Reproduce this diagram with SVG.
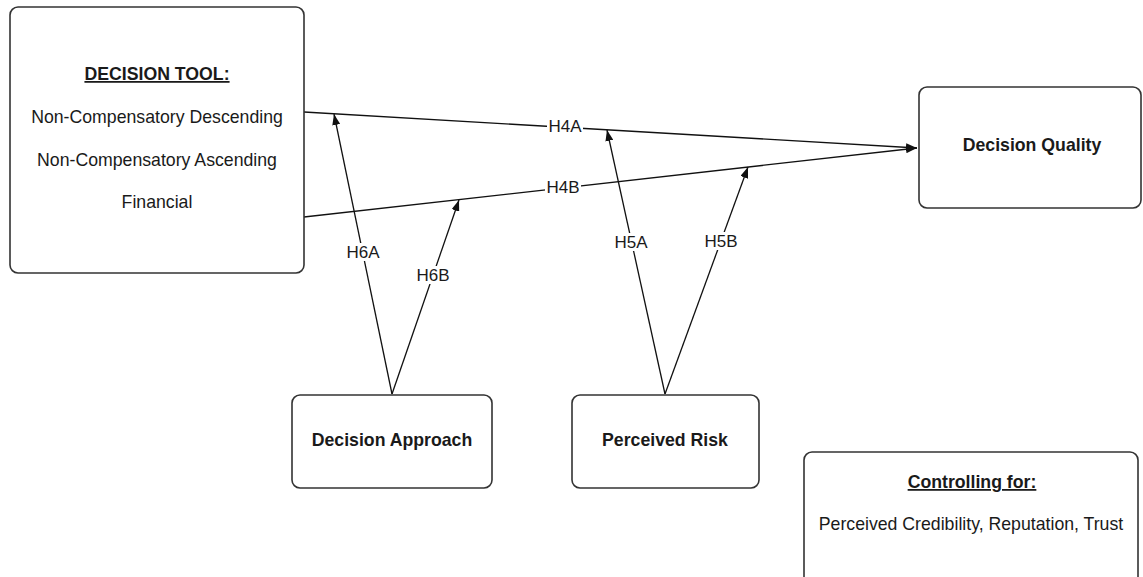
<svg xmlns="http://www.w3.org/2000/svg" width="1143" height="577" viewBox="0 0 1143 577">
  <style>
    .box { fill: #ffffff; stroke: #333333; stroke-width: 1.6; }
    .txt { font-family: "Liberation Sans", Arial, sans-serif; font-size: 17.7px; fill: #1a1a1a; text-anchor: middle; }
    .lbl { font-family: "Liberation Sans", Arial, sans-serif; font-size: 17px; fill: #1a1a1a; text-anchor: middle; }
    .bold { font-weight: bold; }
    .ul { text-decoration: underline; }
    .edge { stroke: #111111; stroke-width: 1.3; fill: none; marker-end: url(#arrow); }
    .lblbg { fill: #ffffff; }
  </style>
  <defs>
    <marker id="arrow" markerUnits="userSpaceOnUse" markerWidth="12" markerHeight="8" refX="11" refY="4" orient="auto">
      <path d="M0,0 L11,4 L0,8 z" fill="#111111"/>
    </marker>
  </defs>
  <rect width="1143" height="577" fill="#ffffff"/>

  <g id="connectors">
    <path class="edge" d="M304,112 L917,148"/>
    <path class="edge" d="M304,217 L917,148"/>
    <path class="edge" d="M392,394 L334,114"/>
    <path class="edge" d="M392,394 L459,200"/>
    <path class="edge" d="M665,394 L607,130"/>
    <path class="edge" d="M665,394 L748,167"/>
    <g id="labels">
      <rect class="lblbg" x="547" y="117" width="36" height="18"/>
      <text class="lbl" x="565" y="132">H4A</text>
      <rect class="lblbg" x="545" y="178" width="36" height="18"/>
      <text class="lbl" x="563" y="193">H4B</text>
      <rect class="lblbg" x="345" y="243" width="36" height="18"/>
      <text class="lbl" x="363" y="258">H6A</text>
      <rect class="lblbg" x="415" y="266" width="36" height="18"/>
      <text class="lbl" x="433" y="281">H6B</text>
      <rect class="lblbg" x="613" y="233" width="36" height="18"/>
      <text class="lbl" x="631" y="248">H5A</text>
      <rect class="lblbg" x="703" y="232" width="36" height="18"/>
      <text class="lbl" x="721" y="247">H5B</text>
    </g>
  </g>

  <g id="decision-tool">
    <rect class="box" x="10" y="7" width="294" height="266" rx="8"/>
    <text class="txt bold ul" x="157" y="80">DECISION TOOL:</text>
    <text class="txt" x="157" y="123">Non-Compensatory Descending</text>
    <text class="txt" x="157" y="166">Non-Compensatory Ascending</text>
    <text class="txt" x="157" y="208">Financial</text>
  </g>

  <g id="decision-quality">
    <rect class="box" x="919" y="87" width="222" height="121" rx="8"/>
    <text class="txt bold" x="1032" y="151">Decision Quality</text>
  </g>

  <g id="decision-approach">
    <rect class="box" x="292" y="395" width="200" height="93" rx="8"/>
    <text class="txt bold" x="392" y="446">Decision Approach</text>
  </g>

  <g id="perceived-risk">
    <rect class="box" x="572" y="395" width="187" height="93" rx="8"/>
    <text class="txt bold" x="665" y="446">Perceived Risk</text>
  </g>

  <g id="controlling-for">
    <rect class="box" x="804" y="452" width="334" height="140" rx="8"/>
    <text class="txt bold ul" x="972" y="488">Controlling for:</text>
    <text class="txt" x="971" y="530">Perceived Credibility, Reputation, Trust</text>
  </g>
</svg>
